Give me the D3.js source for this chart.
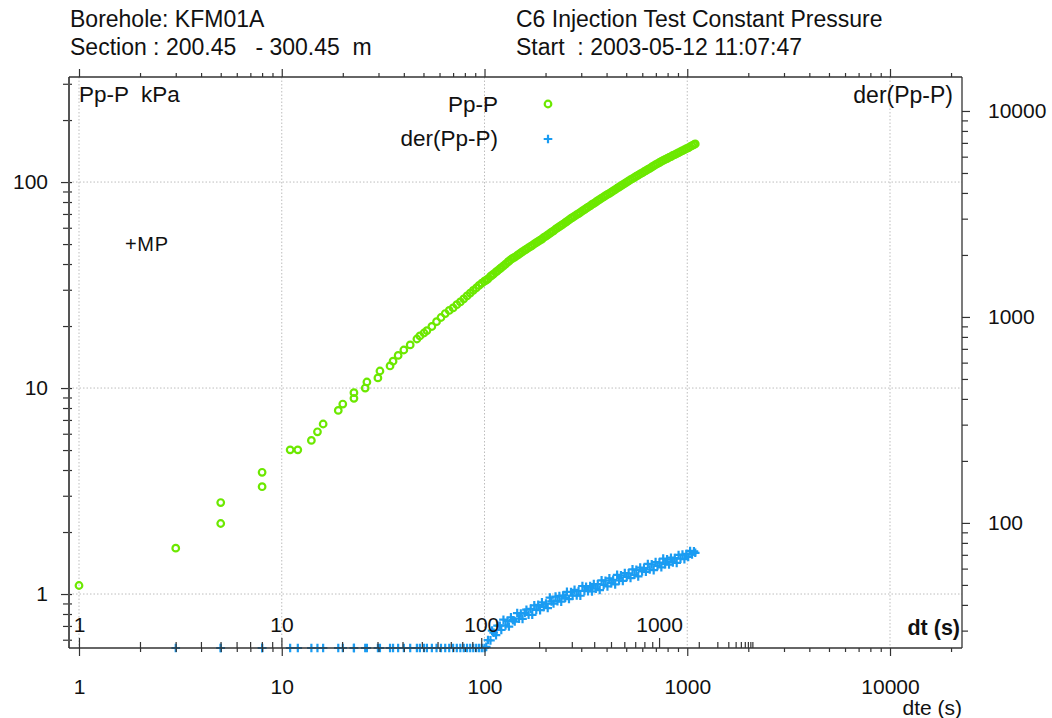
<!DOCTYPE html>
<html><head><meta charset="utf-8">
<script src="https://cdn.jsdelivr.net/npm/d3@7"></script>
<style>
body{margin:0;background:#fff;}
svg text{font-family:"Liberation Sans",Arial,Helvetica,sans-serif;fill:#111;white-space:pre;}
</style></head><body>
<svg id="c" width="1052" height="718"></svg>
<script>
// ---------- data ----------
const headerLeft = ["Borehole: KFM01A", "Section : 200.45   - 300.45  m"];
const headerRight = ["C6 Injection Test Constant Pressure", "Start  : 2003-05-12 11:07:47"];
const dteTickLabels = ["1", "10", "100", "1000", "10000"];
const dtTickLabels = ["1", "10", "100", "1000"];
const leftTickLabels = ["1", "10", "100"];
const rightTickLabels = ["100", "1000", "10000"];
const seriesNames = ["Pp-P", "der(Pp-P)"];
const tp = 2650; // equivalent-time parameter of the dt axis (s)

const time = [1,3,5,5,8,8,11,12,14,15,16,19,20,22.7,22.7,25.8,26.3,29.8,30.5,34.2,35.4,37.5,40,43,46.4,48,50.3,52,55,58,61,64,67,70,73,76,79,82,85,88,91,94,97,
100,102,104,107,109,111,114,116,119,121,
124,127,130,132,135,138,141,145,148,151,
154,158,161,165,169,172,176,180,184,188,
192,196,201,205,210,214,219,224,229,234,
239,244,250,255,261,267,272,278,285,291,
297,304,311,317,324,332,339,346,354,362,
370,378,387,395,404,413,422,431,441,451,
461,471,481,492,503,514,525,537,549,561,
573,586,599,612,625,639,653,668,683,698,
713,729,745,761,778,795,813,831,849,868,
887,906,926,947,968,989,1011,1033,1056,1079,
1095];

const ppP = [1.10,1.67,2.78,2.20,3.90,3.32,5.01,5.01,5.57,6.13,6.69,7.79,8.36,9.49,8.91,10.0,10.7,11.2,12.1,12.8,13.5,14.4,15.3,16.2,17.3,17.9,18.5,19.0,19.9,21.0,22.0,23.0,23.8,24.5,25.4,26.2,27.1,28.0,28.9,29.8,30.6,31.5,32.3,
33.0,33.4,33.9,34.8,35.3,35.8,36.6,37.1,37.9,38.4,
39.2,40.0,40.8,41.3,42.1,42.7,43.2,44.1,44.7,45.3,
45.9,46.7,47.2,48.0,48.7,49.3,50.1,50.8,51.5,52.2,
52.9,53.8,54.7,55.4,56.4,57.1,58.0,59.0,59.9,60.8,
61.6,62.5,63.5,64.4,65.5,66.6,67.3,68.3,69.4,70.3,
71.3,72.4,73.5,74.4,75.5,76.7,77.9,78.8,80.0,81.2,
82.4,83.5,84.8,85.9,87.1,88.2,89.4,90.6,91.9,93.3,
94.6,95.9,97.1,98.5,99.9,101.3,102.6,104.0,105.4,106.8,
108.1,109.5,110.8,112.2,113.6,115.1,116.6,118.3,119.9,121.4,
122.8,124.4,126.0,127.3,128.7,130.1,131.6,133.0,134.6,136.0,
137.4,138.8,140.3,142.0,143.5,145.1,146.6,148.4,150.1,151.9,
153.1];

// values below the right axis minimum sit on the bottom edge
const derPpP = [null,20,20,20,20,20,20,20,20,20,20,20,20,20,20,20,20,20,20,20,20,20,20,20,20,20,20,20,20,20,20,20,20,20,20,20,20,20,20,20,20,20,20,
20,25.0,27.0,26.9,30.0,29.3,28.5,31.7,31.7,30.2,
33.9,31.8,33.4,31.4,34.8,33.7,33.2,36.5,34.3,36.3,
34.2,36.6,37.9,35.8,38.3,35.8,39.8,37.8,40.0,37.7,
41.2,39.1,40.6,38.6,43.4,41.6,40.6,43.9,41.7,44.2,
41.5,44.4,43.4,46.3,42.7,46.2,44.3,47.3,44.5,46.7,
44.3,49.4,46.8,49.0,46.6,49.4,46.5,50.5,47.9,50.4,
47.2,52.6,50.0,52.4,49.2,53.8,51.0,52.9,50.3,56.0,
52.6,55.7,52.3,57.1,54.7,56.9,54.0,59.5,56.0,59.2,
55.0,60.7,58.2,60.4,57.9,63.2,59.4,62.9,59.0,64.5,
61.8,64.2,60.9,67.1,63.1,66.6,62.8,67.8,64.3,67.5,
64.0,69.9,67.0,70.2,66.7,70.7,68.4,73.1,70.2,72.8,
71.6];

// ---------- scales ----------
const svg = d3.select("#c");
const X = d3.scaleLog().domain([0.8926, 22650]).range([69, 962]);
const YL = d3.scaleLog().domain([0.547, 323.6]).range([648, 77]);
const YR = d3.scaleLog().domain([24.7, 14620]).range([648, 77]).clamp(true);
const L = 69, R = 962, T = 77, B = 648;
const green = "#6ce800", blue = "#1a9cf2";
const dteOf = dt => tp * dt / (tp + dt);

const decX = dteTickLabels.map(Number);
const decL = leftTickLabels.map(Number);

// ---------- grid ----------
const grid = svg.append("g").attr("stroke", "#bdbdbd").attr("stroke-width", 1).attr("stroke-dasharray", "1.5,2");
grid.selectAll(".gx").data(decX).join("line")
  .attr("x1", d => X(d)).attr("x2", d => X(d)).attr("y1", T).attr("y2", B);
grid.selectAll(".gy").data(decL).join("line")
  .attr("y1", d => YL(d)).attr("y2", d => YL(d)).attr("x1", L).attr("x2", R);

// ---------- data ----------
const pts = time.map((t, i) => ({t, p: ppP[i], d: derPpP[i]}));
svg.append("g").selectAll("circle").data(pts).join("circle")
  .attr("cx", d => X(d.t)).attr("cy", d => YL(d.p)).attr("r", 3.3)
  .attr("fill", "none").attr("stroke", green).attr("stroke-width", 2.2);
svg.append("g").selectAll("path").data(pts.filter(d => d.d != null)).join("path")
  .attr("d", d => { const x = X(d.t), y = YR(d.d); return `M${x-4.3},${y}H${x+4.3}M${x},${y-4.3}V${y+4.3}`; })
  .attr("stroke", blue).attr("stroke-width", 2.2).attr("fill", "none");

// ---------- axes ----------
function styleAxis(g) {
  g.select(".domain").remove();
  g.selectAll(".tick line").attr("stroke", "#333").attr("stroke-width", 1.2);
  g.selectAll("text").style("font-size", "21px").attr("fill", "#111");
}
const allX = X.ticks().filter(v => v >= 1 && v <= 20000);
// top axis (dte) - no labels
svg.append("g").attr("transform", `translate(0,${T})`)
  .call(d3.axisTop(X).tickValues(allX.filter(v => !decX.includes(v))).tickSize(4).tickFormat(""))
  .call(styleAxis);
svg.append("g").attr("transform", `translate(0,${T})`)
  .call(d3.axisTop(X).tickValues(decX).tickSize(8).tickFormat(""))
  .call(styleAxis);
// bottom axis (dte), ticks down
svg.append("g").attr("transform", `translate(0,${B})`)
  .call(d3.axisBottom(X).tickValues(allX.filter(v => !decX.includes(v))).tickSize(4).tickFormat(""))
  .call(styleAxis);
svg.append("g").attr("transform", `translate(0,${B})`)
  .call(d3.axisBottom(X).tickValues(decX).tickSize(8).tickPadding(23).tickFormat((d, i) => dteTickLabels[i]))
  .call(styleAxis);
// inner dt axis, ticks up, positions through dte mapping
const dtAll = d3.scaleLog().domain([1, 10000]).ticks();
const dtMaj = dtTickLabels.map(Number);
svg.append("g").attr("transform", `translate(0,${B})`)
  .call(d3.axisTop(X).tickValues(dtAll.filter(v => !dtMaj.includes(v)).map(dteOf)).tickSize(6).tickFormat(""))
  .call(styleAxis);
svg.append("g").attr("transform", `translate(0,${B})`)
  .call(d3.axisTop(X).tickValues(dtMaj.map(dteOf)).tickSize(10).tickPadding(6).tickFormat((d, i) => dtTickLabels[i]))
  .call(styleAxis);
// left axis
const allL = YL.ticks().filter(v => v >= 0.6 && v <= 300);
svg.append("g").attr("transform", `translate(${L + 3},0)`)
  .call(d3.axisLeft(YL).tickValues(allL.filter(v => !decL.includes(v))).tickSize(9).tickFormat(""))
  .call(styleAxis);
svg.append("g").attr("transform", `translate(${L + 3},0)`)
  .call(d3.axisLeft(YL).tickValues(decL).tickSize(11).tickPadding(13).tickFormat((d, i) => leftTickLabels[i]))
  .call(styleAxis);
// right axis
const decR = rightTickLabels.map(Number);
const allR = d3.scaleLog().domain([24.7, 14620]).ticks().filter(v => v >= 30 && v <= 10000);
svg.append("g").attr("transform", `translate(${R},0)`)
  .call(d3.axisRight(YR).tickValues(allR.filter(v => !decR.includes(v))).tickSize(6).tickFormat(""))
  .call(styleAxis);
svg.append("g").attr("transform", `translate(${R},0)`)
  .call(d3.axisRight(YR).tickValues(decR).tickSize(8).tickPadding(18).tickFormat((d, i) => rightTickLabels[i]))
  .call(styleAxis);

// frame
const fr = svg.append("g").attr("fill", "none");
fr.append("line").attr("x1", L).attr("x2", L).attr("y1", T).attr("y2", B).attr("stroke", "#555").attr("stroke-width", 2);
fr.append("line").attr("x1", L).attr("x2", R).attr("y1", T).attr("y2", T).attr("stroke", "#333").attr("stroke-width", 1.3);
fr.append("line").attr("x1", R).attr("x2", R).attr("y1", T).attr("y2", B).attr("stroke", "#333").attr("stroke-width", 1.3);
fr.append("line").attr("x1", L).attr("x2", R).attr("y1", B).attr("y2", B).attr("stroke", "#333").attr("stroke-width", 1.5);

// ---------- texts ----------
function txt(s, x, y, size, opts = {}) {
  const t = svg.append("text").attr("x", x).attr("y", y).attr("xml:space", "preserve").style("font-size", size + "px").text(s);
  if (opts.anchor) t.attr("text-anchor", opts.anchor);
  if (opts.len) t.attr("textLength", opts.len).attr("lengthAdjust", "spacing");
  if (opts.bold) t.style("font-weight", "bold");
  return t;
}
txt(headerLeft[0], 70, 27, 23);
txt(headerLeft[1], 70, 55, 23);
txt(headerRight[0], 516, 27, 23);
txt(headerRight[1], 516, 55, 23);
txt("Pp-P  kPa", 79, 102, 22.5);
txt("der(Pp-P)", 953, 103, 23, {anchor: "end"});
txt("+MP", 125, 251, 20, {len: 43});
txt("dt (s)", 960, 635, 21.5, {anchor: "end", bold: true});
txt("dte (s)", 962, 715, 21, {anchor: "end"});
// legend
txt(seriesNames[0], 498, 112, 22.5, {anchor: "end"});
txt(seriesNames[1], 498, 146, 22.5, {anchor: "end"});
svg.append("circle").attr("cx", 548).attr("cy", 104).attr("r", 3.3).attr("fill", "none").attr("stroke", green).attr("stroke-width", 2.2);
svg.append("path").attr("d", "M543.7,139H552.3M548,134.7V143.3").attr("stroke", blue).attr("stroke-width", 2.2);
</script>
</body></html>
